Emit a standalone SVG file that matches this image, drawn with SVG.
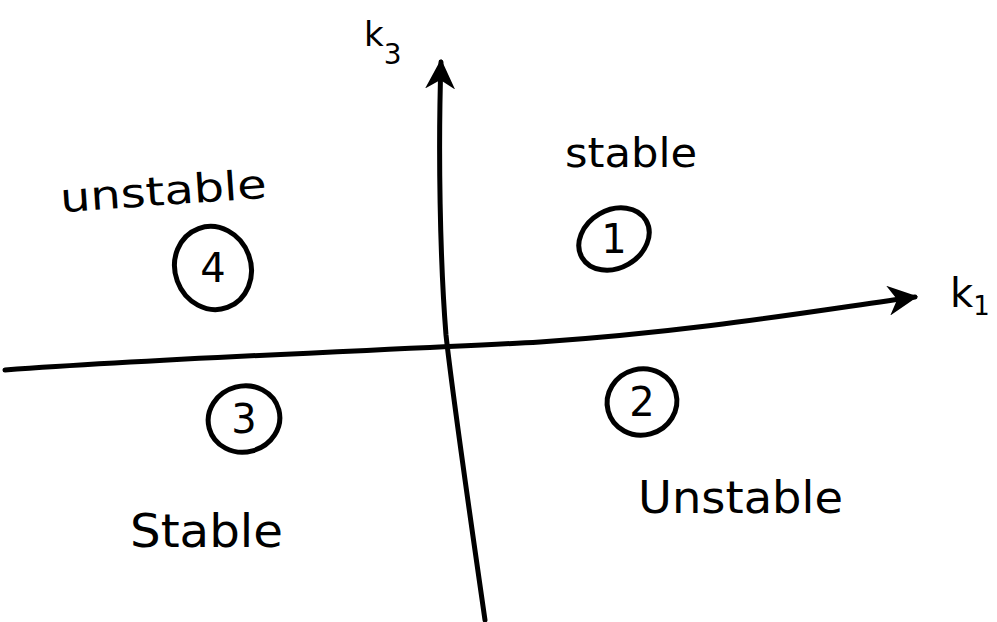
<svg xmlns="http://www.w3.org/2000/svg" width="997" height="622" viewBox="0 0 997 622">
<style>
.ax{fill:none;stroke:#000;stroke-width:5;stroke-linecap:round}
.ring{fill:none;stroke:#000;stroke-width:5}
.lbl{font-family:"DejaVu Sans",sans-serif;fill:#000}
.num{font-family:"DejaVu Sans",sans-serif;font-size:40px;fill:#000;text-anchor:middle}
.ax-lbl{font-family:"DejaVu Sans",sans-serif;fill:#000}
</style>
<defs>
<marker id="ah" viewBox="0 0 10 10" refX="9" refY="5" markerWidth="6" markerHeight="6" orient="auto" markerUnits="strokeWidth">
<path d="M0,0 L10,5 L0,10 L3,5 z" fill="#000"/>
</marker>
</defs>
<rect width="997" height="622" fill="#fff"/>
<g id="connectors">
<path class="ax" d="M5,370 C200,356 400,350 540,342 C700,331 820,310 915,297" marker-end="url(#ah)"/>
<path class="ax" d="M485,620 C472,530 452,390 446,335 C440,260 438,150 441,62" marker-end="url(#ah)"/>
</g>
<g id="axis-k3">
<text class="ax-lbl" x="364" y="46" font-size="34">k<tspan font-size="28" dx="0" dy="18">3</tspan></text>
</g>
<g id="axis-k1">
<text class="ax-lbl" x="950" y="307" font-size="40">k<tspan font-size="26" dx="0" dy="8">1</tspan></text>
</g>
<g id="region-1">
<text class="lbl" x="565" y="167" font-size="40" textLength="132" lengthAdjust="spacingAndGlyphs">stable</text>
<ellipse class="ring" cx="614" cy="239" rx="37" ry="29" transform="rotate(-30 614 239)"/>
<text class="num" x="614" y="253">1</text>
</g>
<g id="region-4">
<text class="lbl" x="60" y="205" font-size="40" textLength="207" lengthAdjust="spacingAndGlyphs" transform="rotate(-4 163 195)">unstable</text>
<ellipse class="ring" cx="213" cy="268" rx="38" ry="42" transform="rotate(-20 213 268)"/>
<text class="num" x="213" y="282">4</text>
</g>
<g id="region-3">
<ellipse class="ring" cx="244" cy="419" rx="36" ry="33" transform="rotate(-15 244 419)"/>
<text class="num" x="244" y="433">3</text>
<text class="lbl" x="130" y="547" font-size="46" textLength="153" lengthAdjust="spacingAndGlyphs">Stable</text>
</g>
<g id="region-2">
<ellipse class="ring" cx="642" cy="402" rx="35" ry="33" transform="rotate(-15 642 402)"/>
<text class="num" x="642" y="416">2</text>
<text class="lbl" x="638" y="513" font-size="44" textLength="205" lengthAdjust="spacingAndGlyphs">Unstable</text>
</g>
</svg>
